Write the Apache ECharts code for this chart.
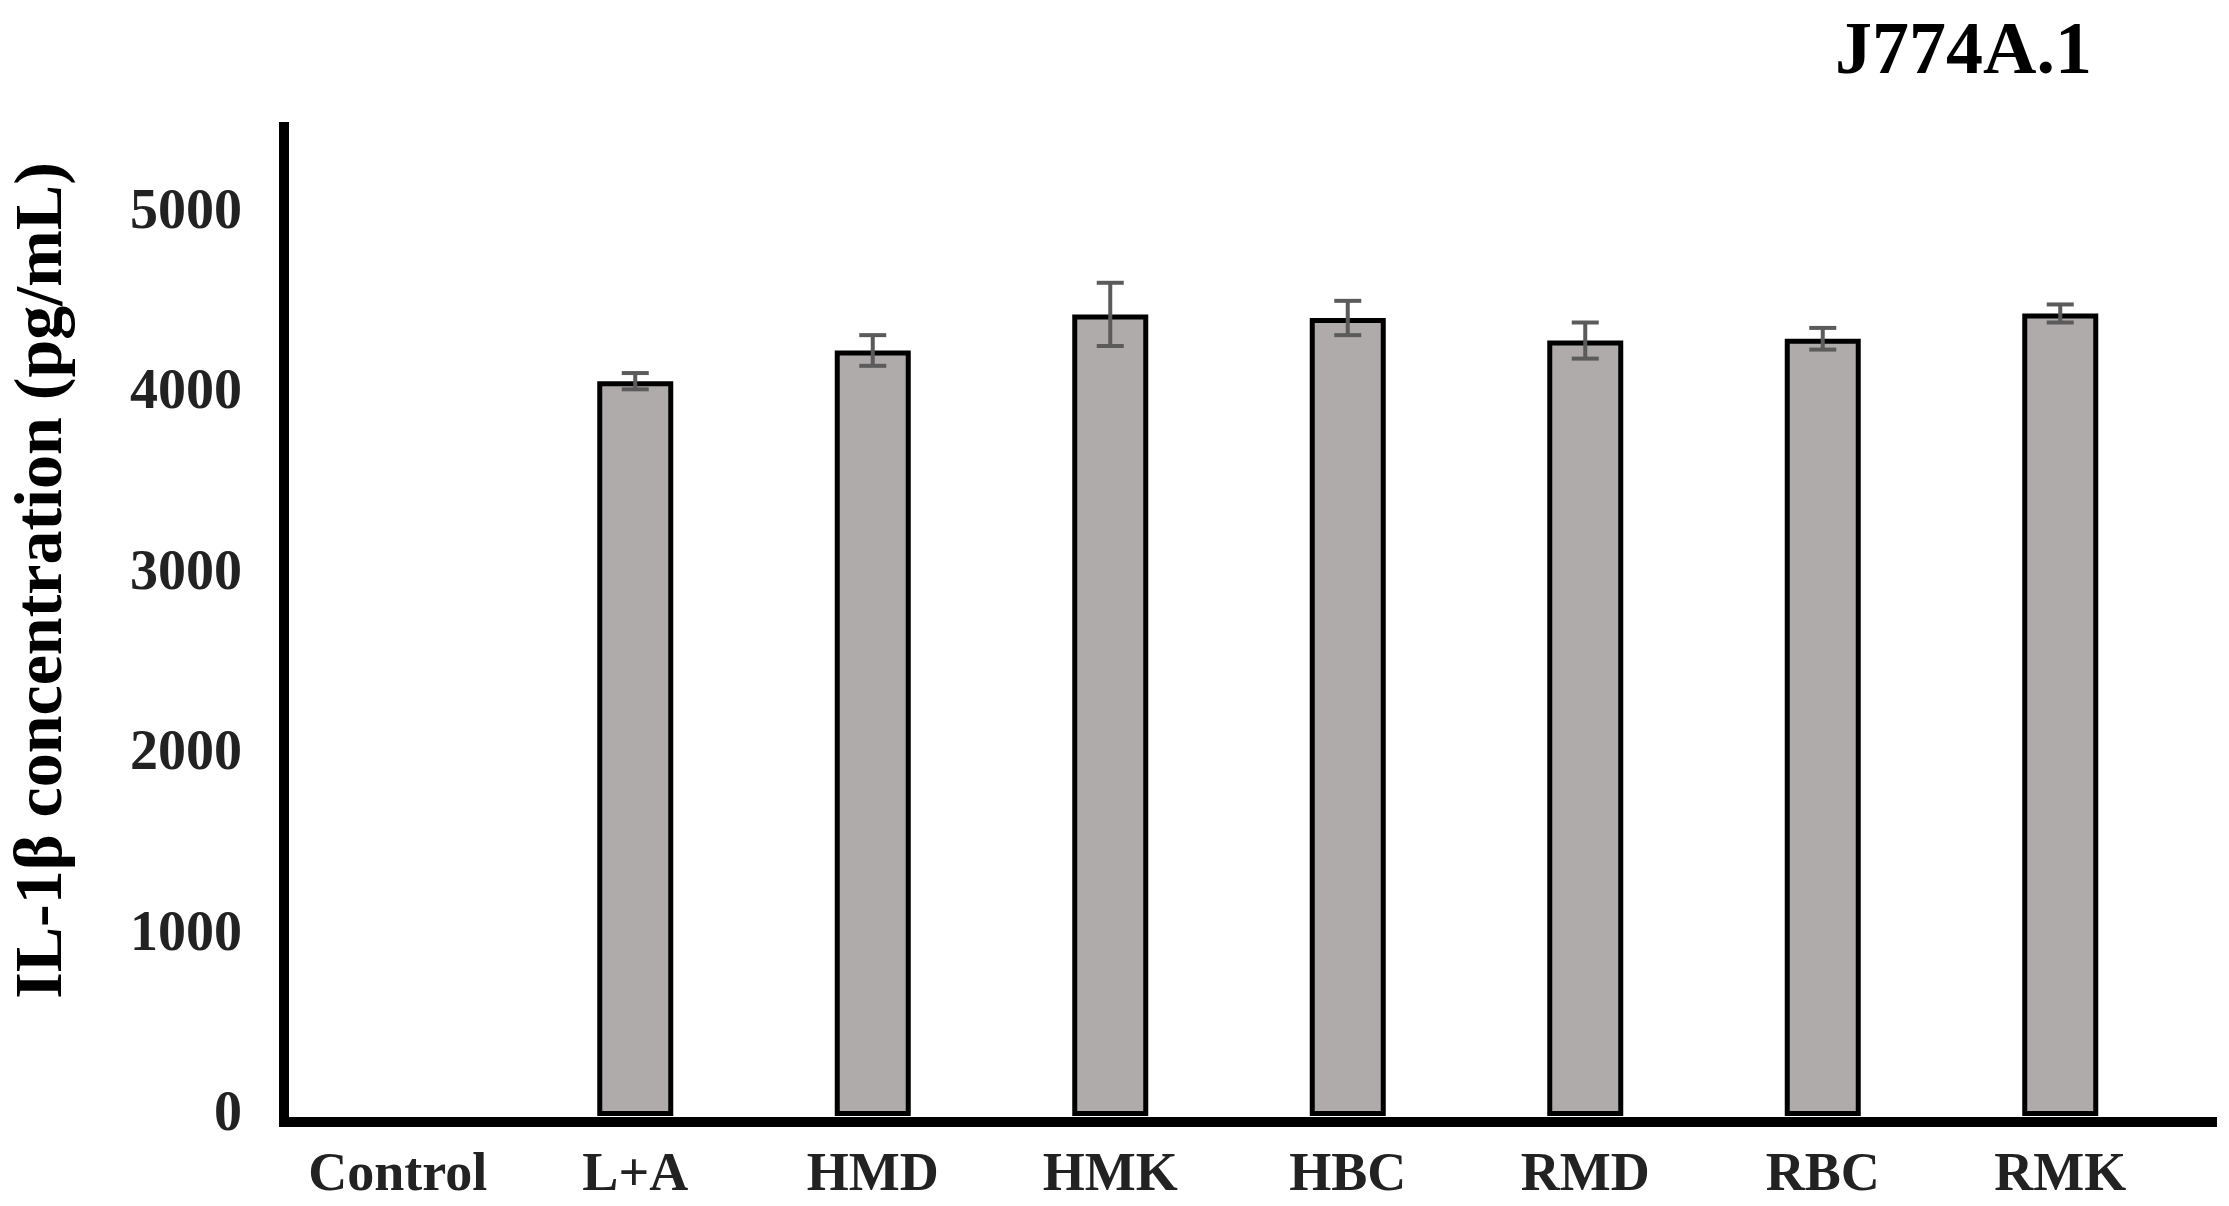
<!DOCTYPE html>
<html>
<head>
<meta charset="utf-8">
<script src="https://cdn.jsdelivr.net/npm/echarts@6/dist/echarts.min.js"></script>
<style>
html,body{margin:0;padding:0;background:#fff;}
#chart{width:2229px;height:1206px;}
</style>
</head>
<body>
<div id="chart"></div>
<script>
const categories = ['Control', 'L+A', 'HMD', 'HMK', 'HBC', 'RMD', 'RBC', 'RMK'];
const values = [0, 4070, 4240, 4440, 4420, 4295, 4305, 4445];
const errors = [0, 45, 85, 175, 95, 100, 60, 50];
const yTicks = { min: 0, max: 5500, interval: 1000 };
const titleText = 'J774A.1';
const yAxisTitle = 'IL-1β concentration (pg/mL)';

const FONT = "'Liberation Serif', 'Times New Roman', serif";

const chart = echarts.init(document.getElementById('chart'), null, { renderer: 'canvas' });

const barData = values.map(v => v === 0 ? { value: v, itemStyle: { borderWidth: 0 } } : { value: v });
const errData = values.map((v, i) => [i, v, errors[i]]);

const option = {
  backgroundColor: '#ffffff',
  animation: false,
  title: {
    text: titleText,
    left: 1830,
    top: 12,
    textStyle: { fontFamily: FONT, fontWeight: 'bold', fontSize: 74, color: '#000' }
  },
  grid: [
    { left: 279, width: 1900, top: 123, bottom: 90, containLabel: false, outerBoundsMode: 'none' },
    { left: 284, right: 17, top: 127, bottom: 84, containLabel: false, outerBoundsMode: 'none' }
  ],
  xAxis: [
    {
      type: 'category', gridIndex: 0, data: categories,
      axisLine: { show: false }, axisTick: { show: false },
      axisLabel: { margin: 33, fontFamily: FONT, fontWeight: 'bold', fontSize: 54, color: '#222' }
    },
    {
      type: 'value', gridIndex: 1, min: 0, max: 1,
      axisLine: { show: true, lineStyle: { color: '#000', width: 10, cap: 'square' } },
      axisTick: { show: false }, axisLabel: { show: false }, splitLine: { show: false }
    }
  ],
  yAxis: [
    {
      type: 'value', gridIndex: 0, min: yTicks.min, max: yTicks.max, interval: yTicks.interval,
      axisLine: { show: false }, axisTick: { show: false }, splitLine: { show: false },
      axisLabel: {
        margin: 37, showMaxLabel: false, fontFamily: FONT, fontWeight: 'bold', fontSize: 56, color: '#222',
        formatter: v => String(v)
      },
      name: yAxisTitle, nameLocation: 'middle', nameGap: 202, nameRotate: 90,
      nameTextStyle: { fontFamily: FONT, fontWeight: 'bold', fontSize: 68, color: '#000', padding: [0, 0, 0, 78] }
    },
    {
      type: 'value', gridIndex: 1, min: 0, max: 1,
      axisLine: { show: true, lineStyle: { color: '#000', width: 10, cap: 'square' } },
      axisTick: { show: false }, axisLabel: { show: false }, splitLine: { show: false }
    }
  ],
  series: [
    {
      type: 'bar', xAxisIndex: 0, yAxisIndex: 0, data: barData,
      barWidth: 76,
      itemStyle: { color: '#afabaa', borderColor: '#000', borderWidth: 5 },
      z: 2
    },
    {
      type: 'custom', xAxisIndex: 0, yAxisIndex: 0, data: errData, z: 5,
      renderItem: function (params, api) {
        const i = api.value(0), v = api.value(1), e = api.value(2);
        if (!e) return null;
        const top = api.coord([i, v + e]);
        const bot = api.coord([i, v - e]);
        const hw = 13.5;
        const st = { stroke: '#5b5b5b', lineWidth: 4 };
        return {
          type: 'group',
          children: [
            { type: 'line', shape: { x1: top[0], y1: top[1], x2: bot[0], y2: bot[1] }, style: st },
            { type: 'line', shape: { x1: top[0] - hw, y1: top[1], x2: top[0] + hw, y2: top[1] }, style: st },
            { type: 'line', shape: { x1: bot[0] - hw, y1: bot[1], x2: bot[0] + hw, y2: bot[1] }, style: st }
          ]
        };
      }
    }
  ]
};
chart.setOption(option);
</script>
</body>
</html>
